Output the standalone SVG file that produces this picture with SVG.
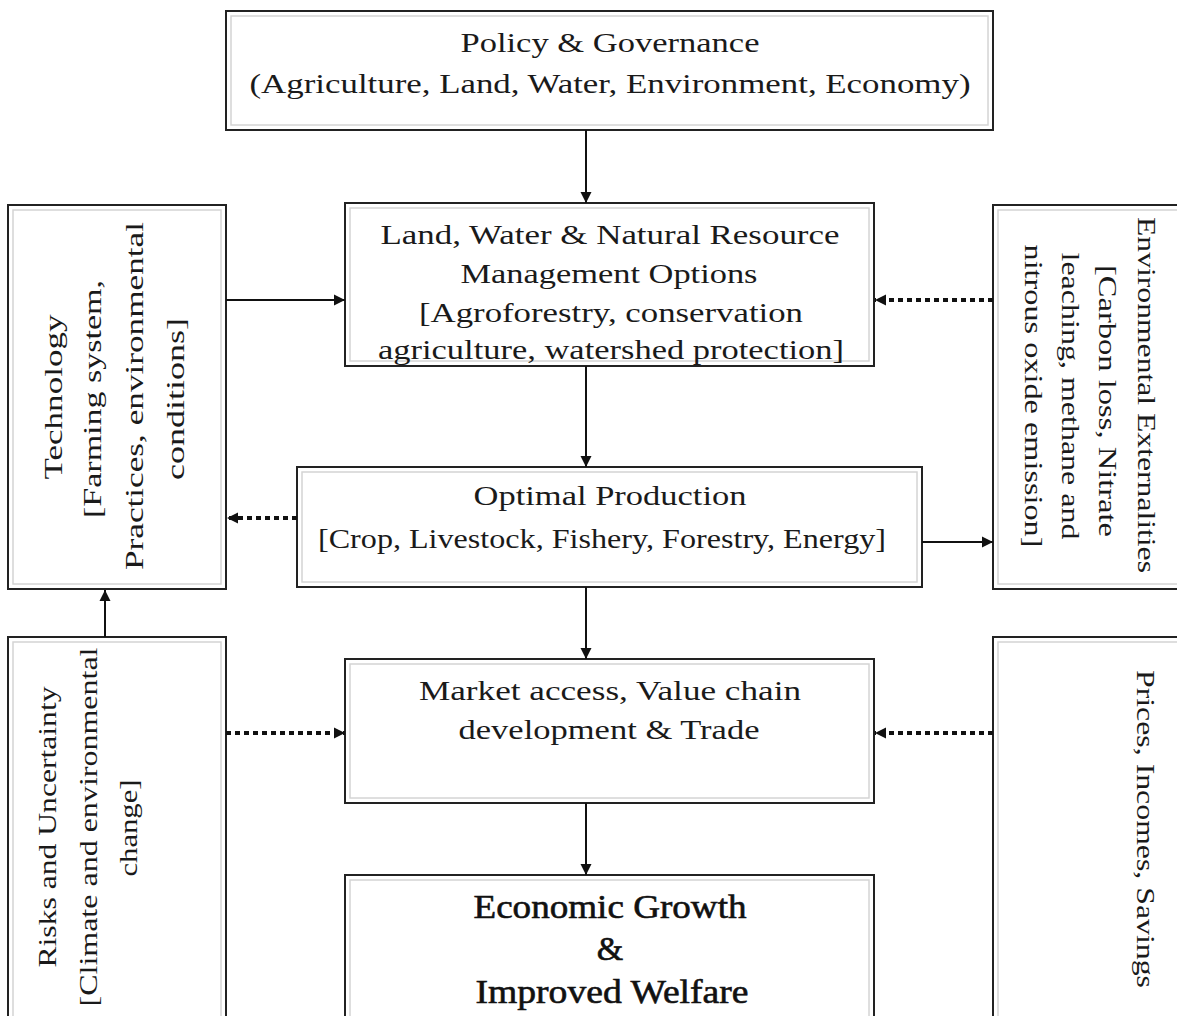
<svg xmlns="http://www.w3.org/2000/svg" width="1177" height="1016" viewBox="0 0 1177 1016">
<defs>
<marker id="ah" markerUnits="userSpaceOnUse" markerWidth="12" markerHeight="12" refX="11" refY="6" orient="auto">
<path d="M0,0.5 L11,6 L0,11.5 z" fill="#111"/>
</marker>
<style>
.box{fill:#fff;stroke:#222;stroke-width:2}
.inner{fill:none;stroke:#d4d4d4;stroke-width:1.5}
.t{font-family:"Liberation Serif","Times New Roman",serif;font-size:28px;fill:#1a1a1a;text-anchor:middle}
.side{font-size:26px}
.big{font-size:34px;fill:#111;stroke:#111;stroke-width:0.6}
.solid{stroke:#111;stroke-width:2;fill:none;marker-end:url(#ah)}
.dot{stroke:#111;stroke-width:4;stroke-dasharray:5 4;fill:none;marker-end:url(#ah)}
</style>
</defs>
<rect width="1177" height="1016" fill="#fff"/>

<g id="policy">
<rect class="box" x="226" y="11" width="767" height="119"/>
<rect class="inner" x="231" y="16" width="757" height="109"/>
<text class="t" x="610" y="52" textLength="299" lengthAdjust="spacingAndGlyphs">Policy &amp; Governance</text>
<text class="t" x="610" y="93" textLength="721" lengthAdjust="spacingAndGlyphs">(Agriculture, Land, Water, Environment, Economy)</text>
</g>

<g id="land">
<rect class="box" x="345" y="203" width="529" height="163"/>
<rect class="inner" x="350" y="208" width="519" height="153"/>
<text class="t" x="610" y="244" textLength="459" lengthAdjust="spacingAndGlyphs">Land, Water &amp; Natural Resource</text>
<text class="t" x="609" y="283" textLength="297" lengthAdjust="spacingAndGlyphs">Management Options</text>
<text class="t" x="611" y="322" textLength="384" lengthAdjust="spacingAndGlyphs">[Agroforestry, conservation</text>
<text class="t" x="611" y="359" textLength="466" lengthAdjust="spacingAndGlyphs">agriculture, watershed protection]</text>
</g>

<g id="technology">
<rect class="box" x="8" y="205" width="218" height="384"/>
<rect class="inner" x="13" y="210" width="208" height="374"/>
<text class="t side" transform="translate(62,397) rotate(-90)" textLength="165" lengthAdjust="spacingAndGlyphs">Technology</text>
<text class="t side" transform="translate(101,399) rotate(-90)" textLength="238" lengthAdjust="spacingAndGlyphs">[Farming system,</text>
<text class="t side" transform="translate(143,396) rotate(-90)" textLength="348" lengthAdjust="spacingAndGlyphs">Practices, environmental</text>
<text class="t side" transform="translate(184,399) rotate(-90)" textLength="162" lengthAdjust="spacingAndGlyphs">conditions]</text>
</g>

<g id="environment">
<rect class="box" x="993" y="205" width="200" height="384"/>
<rect class="inner" x="998" y="210" width="190" height="374"/>
<text class="t side" transform="translate(1138,395) rotate(90)" textLength="356" lengthAdjust="spacingAndGlyphs">Environmental Externalities</text>
<text class="t side" transform="translate(1099,401) rotate(90)" textLength="272" lengthAdjust="spacingAndGlyphs">[Carbon loss, Nitrate</text>
<text class="t side" transform="translate(1062,396) rotate(90)" textLength="287" lengthAdjust="spacingAndGlyphs">leaching, methane and</text>
<text class="t side" transform="translate(1025,396) rotate(90)" textLength="303" lengthAdjust="spacingAndGlyphs">nitrous oxide emission]</text>
</g>

<g id="production">
<rect class="box" x="297" y="467" width="625" height="120"/>
<rect class="inner" x="302" y="472" width="615" height="110"/>
<text class="t" x="610" y="505" textLength="273" lengthAdjust="spacingAndGlyphs">Optimal Production</text>
<text class="t" x="602" y="548" textLength="568" lengthAdjust="spacingAndGlyphs">[Crop, Livestock, Fishery, Forestry, Energy]</text>
</g>

<g id="market">
<rect class="box" x="345" y="659" width="529" height="144"/>
<rect class="inner" x="350" y="664" width="519" height="134"/>
<text class="t" x="610" y="700" textLength="382" lengthAdjust="spacingAndGlyphs">Market access, Value chain</text>
<text class="t" x="609" y="739" textLength="301" lengthAdjust="spacingAndGlyphs">development &amp; Trade</text>
</g>

<g id="risks">
<rect class="box" x="8" y="637" width="218" height="400"/>
<rect class="inner" x="13" y="642" width="208" height="390"/>
<text class="t side" transform="translate(56,827) rotate(-90)" textLength="281" lengthAdjust="spacingAndGlyphs">Risks and Uncertainty</text>
<text class="t side" transform="translate(97,827) rotate(-90)" textLength="359" lengthAdjust="spacingAndGlyphs">[Climate and environmental</text>
<text class="t side" transform="translate(137,828) rotate(-90)" textLength="97" lengthAdjust="spacingAndGlyphs">change]</text>
</g>

<g id="prices">
<rect class="box" x="993" y="637" width="200" height="400"/>
<rect class="inner" x="998" y="642" width="190" height="390"/>
<text class="t side" transform="translate(1137,829) rotate(90)" textLength="318" lengthAdjust="spacingAndGlyphs">Prices, Incomes, Savings</text>
</g>

<g id="growth">
<rect class="box" x="345" y="875" width="529" height="160"/>
<rect class="inner" x="350" y="880" width="519" height="150"/>
<text class="t big" x="610" y="918" textLength="273" lengthAdjust="spacingAndGlyphs">Economic Growth</text>
<text class="t big" x="610" y="960">&amp;</text>
<text class="t big" x="612" y="1003" textLength="273" lengthAdjust="spacingAndGlyphs">Improved Welfare</text>
</g>

<g id="connectors">
<line class="solid" x1="586" y1="130" x2="586" y2="203"/>
<line class="solid" x1="226" y1="300" x2="345" y2="300"/>
<line class="dot" x1="993" y1="300" x2="875" y2="300"/>
<line class="solid" x1="586" y1="366" x2="586" y2="467"/>
<line class="dot" x1="297" y1="518" x2="227" y2="518"/>
<line class="solid" x1="922" y1="542" x2="993" y2="542"/>
<line class="solid" x1="586" y1="587" x2="586" y2="659"/>
<line class="solid" x1="105" y1="637" x2="105" y2="590"/>
<line class="dot" x1="226" y1="733" x2="345" y2="733"/>
<line class="dot" x1="993" y1="733" x2="875" y2="733"/>
<line class="solid" x1="586" y1="803" x2="586" y2="875"/>
</g>
</svg>
